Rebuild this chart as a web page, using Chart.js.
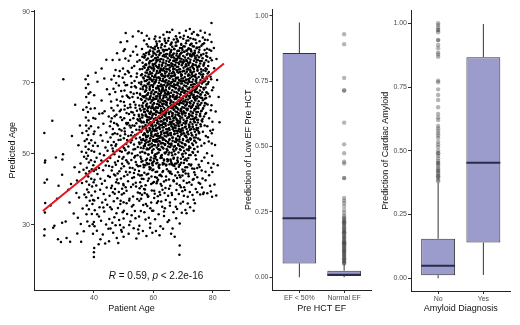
<!DOCTYPE html>
<html>
<head>
<meta charset="utf-8">
<script src="https://cdn.jsdelivr.net/npm/chart.js@4"></script>
<style>
  html, body { margin: 0; padding: 0; background: #fff; }
  body { width: 520px; height: 325px; position: relative; overflow: hidden; }
  canvas { position: absolute; top: 0; }
</style>
</head>
<body>
<canvas id="ageChart" width="233" height="325" style="left:0"></canvas>
<canvas id="efChart" width="142" height="325" style="left:233px"></canvas>
<canvas id="amyChart" width="145" height="325" style="left:375px"></canvas>
<script>
// ---- panel 1: patient age vs predicted age, pairs of [age, predicted] ----
const pairs23to37 = [
  23.3,27.0, 23.4,28.8, 23.5,33.5, 23.6,36.2, 23.4,41.9, 23.5,47.6, 23.6,48.1, 23.3,55.9, 24.2,42.8, 25.4,35.5,
  26.0,59.3, 26.3,29.2, 26.7,29.8, 27.2,49.0, 27.6,37.4, 27.9,26.0, 28.1,41.0, 28.9,25.2, 29.3,30.6, 29.3,44.1,
  29.6,49.9, 29.4,48.4, 29.7,71.0, 30.5,31.0, 30.8,26.3, 31.4,39.9, 31.8,36.3, 32.0,25.3, 32.3,41.5, 32.6,55.0,
  33.2,33.2, 33.5,46.2, 33.7,63.8, 34.1,39.0, 34.3,42.5, 34.4,27.6, 34.6,32.0, 34.8,52.4, 35.0,37.7, 35.1,44.9,
  35.3,58.0, 35.5,47.3, 35.6,30.3, 35.7,25.3, 35.9,50.6, 36.0,41.8, 36.1,55.9, 36.2,34.6, 36.4,62.4, 36.5,45.5,
  36.6,28.2, 36.7,49.2, 36.8,38.6, 36.9,53.6
];
const pairs37to40 = [
  37.2,71.0, 37.3,68.5, 37.4,66.0, 37.5,63.1, 37.3,60.2, 37.4,58.0, 37.5,56.4, 37.6,54.1, 37.2,52.0, 37.4,50.3,
  37.5,48.6, 37.6,46.1, 37.3,44.5, 37.5,42.2, 37.7,40.0, 37.4,37.8, 37.6,35.5, 37.5,33.0, 37.8,31.0, 38.0,72.0,
  38.1,69.6, 38.2,66.9, 38.3,64.4, 38.0,61.8, 38.2,59.4, 38.3,57.1, 38.1,55.3, 38.4,53.0, 38.2,51.3, 38.0,49.5,
  38.3,47.6, 38.5,45.1, 38.1,43.6, 38.4,41.3, 38.2,39.2, 38.6,36.8, 38.3,34.4, 38.5,29.7, 38.8,67.3, 38.9,62.7,
  39.0,57.8, 39.1,53.8, 39.2,50.9, 39.0,48.2, 39.3,45.7, 39.1,43.0, 39.4,40.8, 39.2,38.3, 39.5,35.9, 39.3,33.1,
  39.6,30.2, 39.7,27.5, 39.8,60.1, 39.9,55.6, 39.7,52.3, 39.8,46.8, 39.9,42.0, 39.7,37.0
];
const pairs40to45 = [
  40.0,21.0, 40.0,22.3, 40.1,23.5, 40.2,29.6, 40.0,30.8, 40.3,34.1, 40.1,36.9, 40.4,39.4, 40.2,42.7, 40.0,45.2,
  40.3,47.8, 40.1,50.6, 40.4,53.1, 40.2,56.3, 40.5,59.9, 40.3,62.8, 40.1,66.5, 40.6,72.8, 40.8,41.1, 40.9,48.9,
  41.0,28.4, 41.1,33.0, 41.2,44.3, 41.3,52.2, 41.4,37.6, 41.5,57.4, 41.6,24.6, 41.7,46.0, 41.8,61.3, 41.9,35.0,
  42.0,50.0, 42.1,39.9, 42.2,43.0, 42.3,55.2, 42.4,31.2, 42.5,48.1, 42.6,65.0, 42.7,41.6, 42.8,36.3, 42.9,53.7,
  43.0,27.3, 43.1,45.4, 43.2,58.5, 43.3,38.7, 43.4,49.6, 43.5,33.8, 43.6,62.0, 43.7,42.4, 43.8,24.8, 43.9,51.8,
  44.0,46.7, 44.1,30.1, 44.2,56.0, 44.3,40.5, 44.4,68.2, 44.5,35.7, 44.6,47.9, 44.7,53.4, 44.8,43.8, 44.9,28.9,
  45.0,60.5, 41.2,70.3, 42.6,74.0, 43.5,71.2, 44.2,76.5, 41.7,32.4, 42.2,26.0, 43.9,37.1, 44.6,50.9, 40.7,45.6,
  42.9,61.4, 43.2,34.9
];
const pairs45to50 = [
  45.1,25.4, 45.2,31.7, 45.3,38.2, 45.4,43.5, 45.5,48.8, 45.6,54.6, 45.7,59.1, 45.8,64.7, 45.9,70.9, 46.0,34.4,
  46.1,41.0, 46.2,46.3, 46.3,51.5, 46.4,57.0, 46.5,27.8, 46.6,62.2, 46.7,36.7, 46.8,44.2, 46.9,49.9, 47.0,55.8,
  47.1,40.1, 47.2,67.4, 47.3,29.9, 47.4,46.9, 47.5,52.7, 47.6,33.3, 47.7,58.4, 47.8,42.8, 47.9,37.5, 48.0,63.6,
  48.1,48.0, 48.2,24.9, 48.3,53.9, 48.4,39.3, 48.5,31.4, 48.6,45.1, 48.7,73.3, 48.8,50.8, 48.9,35.9, 49.0,60.3,
  49.1,43.1, 49.2,28.6, 49.3,56.6, 49.4,38.6, 49.5,47.2, 49.6,66.1, 49.7,33.6, 49.8,52.1, 49.9,41.5, 50.0,26.7,
  45.3,66.8, 45.8,40.4, 46.2,30.6, 46.7,53.3, 47.1,47.6, 47.6,61.0, 48.1,34.8, 48.6,56.9, 49.2,45.9, 49.7,71.4,
  45.5,35.0, 46.0,45.3, 46.5,50.7, 47.0,38.8, 47.5,42.0, 48.0,44.5, 48.5,49.2, 49.0,36.8, 49.5,40.2, 46.3,76.4,
  47.8,78.3, 49.0,81.4, 48.4,69.2, 47.3,73.6, 45.6,29.0, 46.9,32.2, 48.8,30.0, 49.4,28.1, 47.7,26.3, 46.4,39.2,
  47.2,43.9, 48.3,41.7, 49.6,48.6, 45.9,52.4, 48.9,55.1, 47.9,51.0, 46.8,58.7, 49.1,62.4, 45.1,46.6
];
const pairs50to55 = [
  50.0,29.3, 50.0,31.8, 50.1,34.0, 50.0,36.4, 50.1,38.9, 50.0,41.2, 50.2,43.7, 50.1,46.5, 50.0,49.1, 50.2,51.6,
  50.1,54.4, 50.3,57.2, 50.2,60.0, 50.4,63.5, 50.3,67.8, 50.5,72.4, 50.6,76.8, 50.7,84.0, 50.8,45.0, 50.9,52.8,
  51.0,39.6, 51.1,58.3, 51.2,33.1, 51.3,47.7, 51.4,62.9, 51.5,42.3, 51.6,55.0, 51.7,27.5, 51.8,50.4, 51.9,36.9,
  52.0,65.7, 52.1,44.8, 52.2,59.5, 52.3,31.0, 52.4,53.2, 52.5,40.7, 52.6,48.3, 52.7,69.9, 52.8,35.2, 52.9,56.1,
  53.0,46.0, 53.1,61.6, 53.2,38.0, 53.3,51.2, 53.4,29.1, 53.5,43.4, 53.6,74.7, 53.7,57.9, 53.8,33.9, 53.9,49.4,
  54.0,63.8, 54.1,41.9, 54.2,54.3, 54.3,26.2, 54.4,46.9, 54.5,67.1, 54.6,37.3, 54.7,59.7, 54.8,51.9, 54.9,44.2,
  55.0,84.5, 50.4,79.4, 51.2,81.7, 52.3,77.6, 53.1,83.0, 54.2,80.2, 50.5,55.5, 50.9,48.2, 51.3,44.1, 51.8,61.2,
  52.0,37.4, 52.4,57.4, 52.8,50.1, 53.2,41.4, 53.5,64.6, 53.9,55.3, 54.1,47.7, 54.4,71.6, 54.8,39.1, 50.7,40.6,
  51.1,66.4, 51.6,52.1, 52.1,46.1, 52.6,61.8, 52.9,43.2, 53.4,54.9, 53.8,45.5, 54.3,58.6, 54.7,49.6, 50.2,70.1,
  51.4,73.3, 52.5,71.8, 53.7,70.5, 54.6,75.9, 51.0,36.1, 51.9,30.0, 52.7,32.7, 53.3,35.6, 54.0,31.9, 54.9,28.7,
  51.5,58.7, 52.2,63.9, 53.0,58.0, 53.6,60.9, 54.5,62.1, 50.6,51.0, 51.7,47.3, 52.8,53.8, 53.9,51.4, 54.6,55.6,
  50.3,62.5, 51.2,69.4, 52.4,67.3, 53.4,66.9, 54.2,68.7
];
const pairs55to60 = [
  55.1,27.6, 55.2,32.4, 55.3,36.8, 55.4,40.3, 55.5,43.9, 55.6,46.6, 55.7,49.2, 55.8,51.7, 55.9,54.0, 56.0,56.5,
  56.1,58.8, 56.2,61.1, 56.3,63.6, 56.4,66.2, 56.5,68.9, 56.6,71.5, 56.7,74.6, 56.8,78.0, 56.9,81.9, 55.2,45.2,
  55.4,52.8, 55.6,59.9, 55.8,65.4, 56.0,70.2, 56.2,38.5, 56.4,48.0, 56.6,55.3, 56.8,62.5, 57.0,44.7, 57.1,50.3,
  57.2,57.6, 57.3,64.9, 57.4,41.2, 57.5,67.8, 57.6,53.2, 57.7,60.6, 57.8,47.4, 57.9,72.8, 58.0,35.3, 58.1,56.1,
  58.2,62.0, 58.3,49.8, 58.4,69.6, 58.5,43.1, 58.6,75.4, 58.7,58.4, 58.8,52.6, 58.9,65.5, 59.0,30.4, 59.1,46.0,
  59.2,61.7, 59.3,55.1, 59.4,70.8, 59.5,39.7, 59.6,50.9, 59.7,63.4, 59.8,57.2, 59.9,78.8, 55.3,56.8, 55.5,62.7,
  55.7,68.3, 55.9,72.1, 56.1,44.0, 56.3,50.6, 56.5,53.9, 56.7,59.0, 56.9,65.9, 57.1,39.0, 57.3,46.8, 57.5,55.0,
  57.7,63.3, 57.9,51.5, 58.1,66.6, 58.3,44.4, 58.5,59.6, 58.7,71.0, 58.9,48.3, 59.1,54.4, 59.3,67.0, 59.5,60.2,
  59.7,45.4, 59.9,53.7, 55.4,76.3, 55.8,33.9, 56.2,79.5, 56.6,35.6, 57.0,77.2, 57.4,31.5, 57.8,80.8, 58.2,37.9,
  58.6,82.4, 59.0,34.7, 59.4,76.1, 59.8,41.8, 55.6,42.0, 56.0,47.8, 56.4,57.7, 56.8,52.2, 57.2,61.8, 57.6,69.1,
  58.0,54.8, 58.4,63.1, 58.8,56.6, 59.2,49.0, 59.6,65.1, 55.1,61.0, 55.5,66.9, 55.9,48.6, 56.3,73.9, 56.7,42.9,
  57.1,70.5, 57.5,48.2, 57.9,58.9, 58.3,74.2, 58.7,46.3, 59.1,72.5, 59.5,56.3, 59.9,62.9, 55.2,70.0, 55.6,50.4,
  56.0,40.9, 56.4,60.8, 56.8,46.2, 57.2,53.7, 57.6,57.1, 58.0,60.4, 58.4,51.3, 58.8,68.0, 59.2,58.0, 59.6,47.3,
  59.9,69.3, 55.3,29.8, 56.5,28.3, 57.7,26.9, 58.9,29.2, 59.7,27.8, 57.0,33.6, 58.5,32.0, 55.9,37.4, 57.9,38.6,
  59.3,36.3, 56.9,40.1, 58.2,42.4, 59.4,43.6, 55.8,59.2, 56.6,64.3, 57.4,66.3, 58.1,71.7, 58.9,61.2, 59.6,74.0,
  55.5,73.8, 56.3,77.3, 57.3,75.0, 58.4,78.6, 59.2,80.0, 56.1,84.0, 57.8,83.2
];
const pairs60to65 = [
  60.0,45.6, 60.1,52.4, 60.2,58.9, 60.3,64.2, 60.4,69.9, 60.5,75.3, 60.6,80.1, 60.7,48.7, 60.8,55.5, 60.9,61.8,
  61.0,67.4, 61.1,72.7, 61.2,43.3, 61.3,50.1, 61.4,57.3, 61.5,63.0, 61.6,68.6, 61.7,74.1, 61.8,78.9, 61.9,46.8,
  62.0,53.6, 62.1,60.0, 62.2,65.6, 62.3,71.2, 62.4,76.6, 62.5,41.5, 62.6,49.4, 62.7,56.2, 62.8,62.4, 62.9,67.9,
  63.0,73.5, 63.1,44.9, 63.2,51.7, 63.3,58.5, 63.4,64.8, 63.5,70.4, 63.6,77.9, 63.7,47.2, 63.8,54.0, 63.9,60.7,
  64.0,66.5, 64.1,72.0, 64.2,81.2, 64.3,42.6, 64.4,50.5, 64.5,57.0, 64.6,63.7, 64.7,69.3, 64.8,75.0, 64.9,53.1,
  60.2,42.1, 60.4,49.5, 60.6,56.7, 60.8,62.9, 61.0,70.8, 61.2,76.2, 61.4,47.5, 61.6,54.3, 61.8,60.4, 62.0,66.8,
  62.2,73.4, 62.4,44.1, 62.6,52.9, 62.8,59.2, 63.0,64.0, 63.2,69.2, 63.4,75.7, 63.6,48.4, 63.8,55.9, 64.0,62.3,
  64.2,68.1, 64.4,73.9, 64.6,45.7, 64.8,51.0, 60.1,65.3, 60.3,71.6, 60.5,38.8, 60.7,59.6, 60.9,66.1, 61.1,41.7,
  61.3,53.4, 61.5,59.1, 61.7,65.0, 61.9,71.5, 62.1,39.3, 62.3,55.0, 62.5,61.5, 62.7,69.0, 62.9,74.8, 63.1,39.9,
  63.3,53.0, 63.5,61.1, 63.7,67.7, 63.9,73.2, 64.1,40.4, 64.3,56.0, 64.5,60.2, 64.7,66.7, 64.9,71.8, 60.0,34.0,
  60.6,31.6, 61.2,36.2, 61.8,33.0, 62.4,29.6, 63.0,35.1, 63.6,32.5, 64.2,37.0, 64.8,30.8, 60.3,37.6, 61.5,38.1,
  62.7,36.6, 63.9,34.7, 60.9,28.3, 62.1,27.1, 63.3,28.9, 60.4,78.3, 61.0,81.6, 61.6,79.8, 62.2,82.7, 62.8,80.6,
  63.4,83.5, 64.0,79.2, 64.6,84.3, 60.7,83.0, 62.5,78.4, 63.9,81.8, 60.2,47.9, 60.5,53.8, 60.8,58.0, 61.1,62.1,
  61.4,66.3, 61.7,51.3, 62.0,57.7, 62.3,63.4, 62.6,67.1, 62.9,54.6, 63.2,61.9, 63.5,66.0, 63.8,50.3, 64.1,58.6,
  64.4,64.5, 64.7,55.8, 60.1,74.4, 60.9,77.0, 61.7,76.5, 62.6,74.0, 63.4,71.9, 64.3,77.4, 60.6,43.5, 61.3,45.0,
  62.0,46.0, 62.8,43.7, 63.6,42.2, 64.4,46.9, 60.3,61.3, 61.1,55.1, 61.9,68.2, 62.7,72.3, 63.5,57.5, 64.3,61.7,
  60.8,49.2, 61.6,42.7, 62.4,58.1, 63.2,47.0, 64.0,52.6, 64.8,65.2, 61.0,60.1, 62.1,51.2, 63.1,68.4, 64.1,70.6,
  60.7,70.3, 61.9,63.9, 62.9,48.9, 63.8,59.7
];
const pairs65to70 = [
  65.0,48.3, 65.1,55.2, 65.2,61.6, 65.3,67.0, 65.4,72.6, 65.5,78.1, 65.6,44.6, 65.7,51.9, 65.8,58.3, 65.9,64.6,
  66.0,70.1, 66.1,75.5, 66.2,81.3, 66.3,47.1, 66.4,54.5, 66.5,60.9, 66.6,66.4, 66.7,72.0, 66.8,77.2, 66.9,42.3,
  67.0,50.7, 67.1,57.4, 67.2,63.6, 67.3,69.4, 67.4,74.9, 67.5,80.4, 67.6,45.8, 67.7,53.3, 67.8,59.8, 67.9,65.8,
  68.0,71.3, 68.1,76.8, 68.2,48.9, 68.3,56.4, 68.4,62.5, 68.5,68.2, 68.6,73.7, 68.7,79.0, 68.8,44.0, 68.9,52.2,
  69.0,58.8, 69.1,64.9, 69.2,70.6, 69.3,76.0, 69.4,47.5, 69.5,55.6, 69.6,61.4, 69.7,67.5, 69.8,73.2, 69.9,50.0,
  65.2,45.1, 65.4,52.8, 65.6,58.9, 65.8,65.1, 66.0,71.9, 66.2,77.7, 66.4,49.6, 66.6,56.9, 66.8,63.2, 67.0,68.8,
  67.2,73.9, 67.4,43.9, 67.6,51.2, 67.8,58.0, 68.0,64.2, 68.2,70.0, 68.4,75.6, 68.6,46.4, 68.8,54.1, 69.0,60.5,
  69.2,66.6, 69.4,72.4, 69.6,78.5, 69.8,53.0, 65.1,63.1, 65.3,69.6, 65.5,75.0, 65.7,41.0, 65.9,48.0, 66.1,57.8,
  66.3,62.8, 66.5,69.0, 66.7,74.5, 66.9,52.0, 67.1,60.2, 67.3,65.4, 67.5,71.1, 67.7,76.3, 67.9,41.6, 68.1,53.8,
  68.3,61.0, 68.5,65.0, 68.7,70.8, 68.9,76.9, 69.1,43.4, 69.3,56.7, 69.5,62.7, 69.7,69.8, 69.9,75.4, 65.0,38.2,
  65.6,35.4, 66.2,39.0, 66.8,33.6, 67.4,37.2, 68.0,34.5, 68.6,38.7, 69.2,36.0, 69.8,39.5, 65.3,31.3, 66.5,29.0,
  67.7,31.9, 68.9,30.4, 68.9,24.2, 68.8,21.6, 67.2,26.7, 66.0,27.5, 65.2,82.6, 65.8,80.7, 66.4,84.9, 67.0,79.6,
  67.6,83.1, 68.2,81.9, 68.8,84.0, 69.4,80.9, 65.5,84.2, 67.9,82.4, 69.1,82.8, 65.1,57.0, 65.4,60.3, 65.7,66.2,
  66.0,52.7, 66.3,59.0, 66.6,63.8, 66.9,70.4, 67.2,55.7, 67.5,61.9, 67.8,67.3, 68.1,73.0, 68.4,58.6, 68.7,64.0,
  69.0,68.4, 69.3,62.0, 69.6,58.1, 65.2,73.8, 66.1,79.2, 67.0,76.1, 67.9,78.2, 68.8,77.5, 69.7,79.8, 65.3,42.8,
  66.2,44.3, 67.1,46.6, 68.0,43.2, 68.9,41.2, 69.8,45.6, 65.6,55.7, 66.5,61.4, 67.4,66.0, 68.3,59.3, 69.2,51.1,
  65.9,69.9, 66.8,48.6, 67.7,63.0, 68.6,57.0, 69.5,71.2, 65.0,66.8, 66.0,63.5, 67.0,72.8, 68.0,69.5, 69.0,56.2,
  65.4,50.4, 66.9,58.4, 68.3,47.7, 69.6,64.3
];
const pairs70to75 = [
  70.0,49.2, 70.1,55.8, 70.2,62.0, 70.3,67.8, 70.4,73.3, 70.5,78.7, 70.6,45.3, 70.7,52.6, 70.8,59.1, 70.9,65.2,
  71.0,70.9, 71.1,76.4, 71.2,81.8, 71.3,48.1, 71.4,56.0, 71.5,62.4, 71.6,68.3, 71.7,74.0, 71.8,79.4, 71.9,43.7,
  72.0,51.5, 72.1,58.2, 72.2,64.5, 72.3,70.2, 72.4,75.8, 72.5,82.5, 72.6,46.7, 72.7,54.2, 72.8,60.8, 72.9,66.9,
  73.0,72.5, 73.1,77.9, 73.2,50.5, 73.3,57.6, 73.4,63.8, 73.5,69.6, 73.6,75.1, 73.7,80.2, 73.8,44.8, 73.9,53.7,
  74.0,60.1, 74.1,66.0, 74.2,71.6, 74.3,77.1, 74.4,48.5, 74.5,56.8, 74.6,63.0, 74.7,68.9, 74.8,74.4, 74.9,52.0,
  70.2,42.4, 70.4,50.8, 70.6,57.5, 70.8,63.6, 71.0,69.0, 71.2,74.7, 71.4,46.2, 71.6,53.9, 71.8,60.3, 72.0,66.2,
  72.2,72.1, 72.4,78.0, 72.6,49.7, 72.8,57.0, 73.0,63.2, 73.2,68.7, 73.4,74.2, 73.6,42.9, 73.8,51.4, 74.0,58.9,
  74.2,65.0, 74.4,70.7, 74.6,76.5, 74.8,46.0, 70.1,64.8, 70.3,70.5, 70.5,76.0, 70.7,39.8, 70.9,48.6, 71.1,58.7,
  71.3,64.0, 71.5,70.0, 71.7,75.6, 71.9,51.0, 72.1,61.0, 72.3,67.2, 72.5,73.0, 72.7,79.1, 72.9,41.3, 73.1,55.2,
  73.3,61.6, 73.5,66.4, 73.7,71.9, 73.9,77.6, 74.1,44.1, 74.3,54.6, 74.5,61.8, 74.7,67.4, 74.9,73.6, 70.0,36.5,
  70.8,34.2, 71.6,37.9, 72.4,35.0, 73.2,38.4, 74.0,36.1, 74.8,39.2, 71.2,33.3, 73.6,34.0, 70.4,40.6, 70.3,83.2,
  71.0,84.6, 71.7,82.9, 72.3,85.1, 73.0,83.8, 73.6,84.3, 74.2,82.1, 74.8,83.5, 72.9,81.0, 70.6,61.4, 71.0,55.1,
  71.4,66.6, 71.8,71.0, 72.2,57.7, 72.6,63.3, 73.0,67.7, 73.4,59.8, 73.8,65.6, 74.2,62.6, 74.6,70.0, 70.2,80.3,
  71.3,79.0, 72.4,80.6, 73.5,78.3, 74.6,79.7, 70.9,44.5, 72.0,47.1, 73.1,45.9, 74.2,49.6, 70.5,67.1, 71.9,73.7,
  73.3,72.0, 74.7,59.6, 71.1,62.7, 72.8,69.4, 74.0,67.9
];
const pairs75to83 = [
  75.0,50.6, 75.1,57.3, 75.2,63.5, 75.3,69.2, 75.4,74.8, 75.5,80.0, 75.6,46.3, 75.7,54.0, 75.8,60.6, 75.9,66.6,
  76.0,72.3, 76.1,77.7, 76.2,52.3, 76.3,59.4, 76.4,65.7, 76.5,71.4, 76.6,43.1, 76.7,56.2, 76.8,62.9, 76.9,68.5,
  77.0,75.2, 77.1,81.1, 77.2,49.0, 77.3,58.0, 77.4,64.3, 77.5,70.5, 77.6,45.0, 77.7,55.0, 77.8,61.5, 77.9,67.3,
  78.0,73.8, 78.1,50.2, 78.2,57.8, 78.3,63.9, 78.4,69.7, 78.5,47.4, 78.6,75.9, 78.7,53.5, 78.8,60.0, 78.9,79.3,
  79.0,66.1, 79.1,41.0, 79.2,56.5, 79.3,71.7, 79.4,62.3, 79.5,46.1, 79.6,81.5, 79.7,52.9, 79.8,67.9, 79.9,59.0,
  75.3,41.9, 75.8,38.6, 76.4,40.5, 77.0,39.1, 77.6,42.6, 78.2,38.9, 78.8,44.0, 79.4,39.4, 75.1,83.4, 75.9,84.6,
  76.7,82.7, 77.4,84.1, 78.3,82.0, 79.0,83.6, 79.6,86.8, 78.7,73.0, 79.2,77.0, 79.7,76.3, 79.5,71.0, 79.6,63.7,
  79.7,55.8, 79.8,49.5, 79.9,44.9, 79.8,37.9, 79.5,79.0, 75.5,66.0, 76.1,62.0, 76.7,70.2, 77.3,65.5, 77.9,78.4,
  78.5,66.9, 75.7,76.1, 76.9,73.5, 78.1,71.2, 75.4,56.1, 76.3,48.0, 77.2,53.0, 78.4,54.7, 80.1,56.8, 80.2,68.7,
  80.3,47.2, 80.5,74.1, 80.8,52.5, 81.0,61.9, 81.2,38.3, 81.5,70.8, 81.7,46.8, 82.0,66.0, 82.3,58.9, 80.4,79.8,
  81.3,76.7, 80.6,41.4
];
// fringe of the cloud: middle ages, upper band, and the lower shoulder below the core
const pairsFringe = [
  45.4,57.8, 45.9,62.9, 46.3,55.5, 46.6,68.3, 47.0,60.6, 47.3,52.2, 47.7,65.2, 48.1,58.0, 48.4,71.8, 48.7,62.0,
  49.0,54.0, 49.2,67.7, 49.5,59.5, 49.8,74.0, 50.1,64.6, 50.4,56.3, 50.7,69.3, 51.0,61.5, 51.2,53.9, 51.5,66.0,
  51.8,72.9, 52.0,58.0, 52.3,63.1, 52.5,55.2, 52.8,74.2, 53.0,66.0, 53.3,60.0, 53.5,52.6, 53.8,69.0, 54.0,63.0,
  54.3,56.8, 54.5,72.6, 54.8,65.8, 55.0,59.4, 55.2,53.2, 54.6,77.9, 53.2,78.7, 51.7,76.2, 50.0,78.9, 48.6,76.5,
  46.8,72.0, 47.9,55.6, 49.4,50.6, 51.4,50.1, 53.6,49.0, 52.6,68.8, 50.9,58.7, 49.0,64.8, 47.5,69.9, 46.0,60.0,
  53.5,44.6, 54.2,40.8, 54.9,46.5, 55.5,38.9, 56.1,43.0, 56.7,46.9, 57.2,40.0, 57.8,44.2, 58.3,38.1, 58.8,45.7,
  59.3,41.5, 59.8,47.6, 60.3,39.6, 60.8,44.9, 61.3,42.2, 61.8,46.3, 62.3,38.5, 62.8,41.0, 63.3,45.2, 63.8,39.0,
  64.3,43.6, 64.8,47.9, 65.3,40.2, 65.8,45.0, 66.3,38.4, 66.8,42.6, 67.3,47.2, 67.8,39.8, 68.3,44.8, 68.8,46.9,
  69.3,40.6, 69.8,43.9, 70.3,38.2, 70.8,46.2, 71.3,41.8, 71.8,44.4, 72.3,39.3, 72.8,47.0, 73.3,42.7, 73.8,45.8,
  74.3,40.1, 74.8,43.4, 75.3,46.9, 75.8,41.6, 76.3,45.3, 76.8,38.7, 57.5,35.9, 59.6,34.0, 61.6,36.7, 63.6,33.8,
  65.6,36.3, 67.6,35.1, 69.6,33.4, 71.6,36.0, 73.6,37.1, 62.1,44.0, 66.1,47.5, 70.1,45.0, 72.1,42.0, 58.1,47.1
];
// dense core of the cloud (ages 55-79, predicted 47-82)
const pairsCore = [
  60.4,82.3, 62.1,81.7, 63.8,82.4, 65.0,81.8, 66.9,82.2, 68.3,81.6, 70.1,82.4, 71.8,81.9, 73.5,82.3, 75.6,81.7, 77.4,82.1,
  58.3,80.2, 59.9,79.7, 61.2,80.4, 62.6,79.9, 63.9,80.3, 65.3,79.6, 66.4,80.1, 67.8,80.4, 69.0,79.8, 70.6,80.2, 71.9,79.7,
  73.3,80.3, 74.7,79.9, 76.2,80.4, 78.1,79.6,
  57.6,78.4, 58.9,78.9, 60.1,78.2, 61.4,78.7, 62.3,78.3, 63.5,78.8, 64.6,78.1, 65.8,78.6, 66.9,78.2, 68.1,78.9, 69.3,78.3,
  70.4,78.7, 71.6,78.2, 72.8,78.8, 74.0,78.4, 75.3,78.6, 76.9,78.1,
  56.9,77.1, 58.2,76.8, 59.4,77.3, 60.6,76.9, 61.5,77.2, 62.7,76.7, 63.8,77.4, 64.9,76.9, 66.1,77.2, 67.2,76.8, 68.4,77.3,
  69.5,76.7, 70.7,77.1, 71.8,76.9, 72.9,77.4, 74.1,76.8, 75.4,77.2, 76.6,76.9, 78.2,77.3,
  56.4,75.6, 57.5,75.2, 58.7,75.8, 59.8,75.3, 60.9,75.7, 62.0,75.1, 63.1,75.6, 64.2,75.4, 65.3,75.9, 66.5,75.2, 67.6,75.7,
  68.7,75.3, 69.9,75.8, 71.0,75.2, 72.2,75.6, 73.3,75.3, 74.5,75.8, 75.8,75.4, 77.2,75.6,
  57.1,74.2, 58.3,73.8, 59.2,74.3, 60.3,73.9, 61.3,74.4, 62.5,73.7, 63.5,74.1, 64.6,73.8, 65.6,74.3, 66.7,73.9, 67.9,74.4,
  69.0,73.8, 70.2,74.2, 71.3,73.7, 72.5,74.3, 73.7,73.9, 74.9,74.2, 76.1,73.8, 77.6,74.1,
  56.2,72.4, 57.4,72.9, 58.5,72.3, 59.6,72.7, 60.7,72.2, 61.8,72.8, 62.9,72.4, 64.0,72.6, 65.1,72.1, 66.2,72.7, 67.3,72.3,
  68.5,72.8, 69.6,72.2, 70.8,72.6, 71.9,72.4, 73.1,72.9, 74.3,72.3, 75.5,72.7, 76.8,72.4, 78.3,72.6,
  56.8,71.2, 57.9,70.8, 59.0,71.3, 60.1,70.9, 61.1,71.4, 62.2,70.7, 63.3,71.1, 64.4,70.8, 65.5,71.3, 66.6,70.9, 67.7,71.4,
  68.8,70.7, 70.0,71.2, 71.1,70.8, 72.3,71.3, 73.4,70.9, 74.6,71.2, 75.9,70.8, 77.3,71.1,
  55.9,69.6, 57.0,69.2, 58.1,69.7, 59.3,69.3, 60.4,69.8, 61.5,69.1, 62.6,69.5, 63.7,69.4, 64.8,69.9, 65.9,69.2, 67.0,69.6,
  68.2,69.3, 69.3,69.8, 70.4,69.2, 71.6,69.7, 72.7,69.4, 73.9,69.6, 75.1,69.3, 76.4,69.8, 77.9,69.5,
  56.5,68.2, 57.6,67.8, 58.8,68.3, 59.9,67.9, 61.0,68.4, 62.1,67.7, 63.2,68.1, 64.3,67.8, 65.4,68.3, 66.4,67.9, 67.5,68.4,
  68.6,67.8, 69.8,68.2, 70.9,67.7, 72.0,68.3, 73.2,67.9, 74.4,68.2, 75.7,67.8, 77.0,68.1,
  55.6,66.6, 56.8,66.2, 57.9,66.7, 59.1,66.3, 60.2,66.8, 61.3,66.1, 62.4,66.5, 63.5,66.4, 64.6,66.9, 65.7,66.2, 66.8,66.6,
  67.9,66.3, 69.1,66.8, 70.2,66.2, 71.3,66.7, 72.5,66.4, 73.6,66.6, 74.8,66.3, 76.0,66.8, 77.5,66.5,
  56.1,65.2, 57.2,64.8, 58.4,65.3, 59.5,64.9, 60.6,65.4, 61.7,64.7, 62.8,65.1, 63.9,64.8, 65.0,65.3, 66.1,64.9, 67.2,65.4,
  68.3,64.8, 69.4,65.2, 70.6,64.7, 71.7,65.3, 72.9,64.9, 74.1,65.2, 75.3,64.8, 76.7,65.1,
  55.3,63.6, 56.4,63.2, 57.6,63.7, 58.7,63.3, 59.8,63.8, 60.9,63.1, 62.0,63.5, 63.1,63.4, 64.2,63.9, 65.3,63.2, 66.4,63.6,
  67.6,63.3, 68.7,63.8, 69.8,63.2, 71.0,63.7, 72.1,63.4, 73.3,63.6, 74.5,63.3, 75.8,63.8, 77.2,63.5,
  55.8,62.2, 56.9,61.8, 58.0,62.3, 59.2,61.9, 60.3,62.4, 61.4,61.7, 62.5,62.1, 63.6,61.8, 64.7,62.3, 65.8,61.9, 66.9,62.4,
  68.0,61.8, 69.2,62.2, 70.3,61.7, 71.4,62.3, 72.6,61.9, 73.8,62.2, 75.0,61.8, 76.3,62.1,
  55.2,60.6, 56.3,60.2, 57.4,60.7, 58.6,60.3, 59.7,60.8, 60.8,60.1, 61.9,60.5, 63.0,60.4, 64.1,60.9, 65.2,60.2, 66.3,60.6,
  67.4,60.3, 68.6,60.8, 69.7,60.2, 70.8,60.7, 72.0,60.4, 73.2,60.6, 74.4,60.3, 75.7,60.8, 77.1,60.5,
  55.7,59.2, 56.8,58.8, 57.9,59.3, 59.0,58.9, 60.2,59.4, 61.3,58.7, 62.4,59.1, 63.5,58.8, 64.6,59.3, 65.7,58.9, 66.8,59.4,
  67.9,58.8, 69.0,59.2, 70.2,58.7, 71.3,59.3, 72.5,58.9, 73.7,59.2, 75.0,58.8, 76.5,59.1,
  55.4,57.6, 56.5,57.2, 57.6,57.7, 58.7,57.3, 59.8,57.8, 60.9,57.1, 62.0,57.5, 63.1,57.4, 64.2,57.9, 65.3,57.2, 66.4,57.6,
  67.5,57.3, 68.6,57.8, 69.8,57.2, 70.9,57.7, 72.1,57.4, 73.3,57.6, 74.6,57.3, 76.0,57.8,
  55.9,56.2, 57.0,55.8, 58.1,56.3, 59.3,55.9, 60.4,56.4, 61.5,55.7, 62.6,56.1, 63.7,55.8, 64.8,56.3, 65.9,55.9, 67.0,56.4,
  68.1,55.8, 69.3,56.2, 70.4,55.7, 71.6,56.3, 72.8,55.9, 74.0,56.2, 75.4,55.8,
  55.5,54.6, 56.6,54.2, 57.7,54.7, 58.9,54.3, 60.0,54.8, 61.1,54.1, 62.2,54.5, 63.3,54.4, 64.4,54.9, 65.5,54.2, 66.6,54.6,
  67.7,54.3, 68.9,54.8, 70.0,54.2, 71.2,54.7, 72.4,54.4, 73.7,54.6, 75.1,54.3,
  56.0,53.2, 57.2,52.8, 58.3,53.3, 59.5,52.9, 60.6,53.4, 61.7,52.7, 62.8,53.1, 63.9,52.8, 65.0,53.3, 66.1,52.9, 67.2,53.4,
  68.4,52.8, 69.5,53.2, 70.7,52.7, 71.9,53.3, 73.1,52.9, 74.4,53.2,
  56.7,51.6, 57.8,51.2, 58.9,51.7, 60.1,51.3, 61.2,51.8, 62.3,51.1, 63.4,51.5, 64.5,51.4, 65.6,51.9, 66.7,51.2, 67.8,51.6,
  69.0,51.3, 70.1,51.8, 71.3,51.2, 72.5,51.7, 73.8,51.4,
  57.3,50.2, 58.4,49.8, 59.6,50.3, 60.7,49.9, 61.8,50.4, 62.9,49.7, 64.0,50.1, 65.1,49.8, 66.2,50.3, 67.4,49.9, 68.5,50.4,
  69.7,49.8, 70.9,50.2, 72.1,49.7, 73.4,50.3,
  57.9,48.6, 59.1,48.2, 60.2,48.7, 61.3,48.3, 62.4,48.8, 63.6,48.1, 64.7,48.5, 65.8,48.4, 66.9,48.9, 68.1,48.2, 69.3,48.6,
  70.5,48.3, 71.8,48.8,
  58.6,47.2, 59.8,46.8, 61.0,47.3, 62.1,46.9, 63.2,47.4, 64.3,46.7, 65.5,47.1, 66.6,46.8, 67.8,47.3, 69.0,46.9, 70.3,47.4
];
// densest part of the core (ages 57-79, predicted 52-81)
const pairsCore2 = [
  61.2,81.0, 62.9,80.8, 64.4,81.2, 66.0,80.9, 67.6,81.3, 69.4,80.7, 71.0,81.1, 72.7,80.9, 74.5,81.2, 76.6,80.8,
  58.9,79.1, 60.5,79.4, 61.9,79.0, 63.2,79.3, 64.6,79.2, 65.9,78.9, 67.1,79.4, 68.4,79.0, 69.8,79.3, 71.2,79.1,
  72.6,79.4, 74.0,79.0, 75.5,79.3, 77.3,79.2,
  57.3,77.7, 58.6,78.0, 59.8,77.6, 61.0,77.9, 62.0,77.8, 63.2,77.5, 64.3,78.0, 65.5,77.6, 66.6,77.9, 67.8,77.7,
  69.0,78.0, 70.1,77.5, 71.3,77.9, 72.4,77.6, 73.6,78.0, 74.8,77.7, 76.1,77.9, 77.8,77.6,
  57.7,76.5, 58.9,76.1, 60.0,76.4, 61.1,76.3, 62.2,76.0, 63.4,76.5, 64.4,76.1, 65.6,76.4, 66.7,76.2,
  67.9,76.5, 69.0,76.0, 70.2,76.4, 71.3,76.1, 72.5,76.5, 73.7,76.2, 75.0,76.4, 76.3,76.1, 77.8,76.3,
  57.6,75.0, 58.7,74.6, 59.9,74.9, 60.9,74.8, 61.9,74.5, 63.0,75.0, 64.1,74.6, 65.1,74.9, 66.2,74.7,
  67.3,75.0, 68.4,74.5, 69.6,74.9, 70.8,74.6, 71.9,75.0, 73.1,74.7, 74.3,74.9, 75.5,74.6, 76.9,74.8, 78.5,74.7,
  57.9,73.5, 58.9,73.1, 60.1,73.4, 61.2,73.3, 62.3,73.0, 63.4,73.5, 64.5,73.1, 65.6,73.4, 66.7,73.2,
  67.9,73.5, 69.0,73.0, 70.2,73.4, 71.3,73.1, 72.5,73.5, 73.7,73.2, 74.9,73.4, 76.2,73.1, 77.6,73.3,
  57.3,72.0, 58.5,71.6, 59.6,71.9, 60.6,71.8, 61.7,71.5, 62.8,72.0, 63.9,71.6, 65.0,71.9, 66.1,71.7,
  67.2,72.0, 68.3,71.5, 69.4,71.9, 70.6,71.6, 71.7,72.0, 72.9,71.7, 74.0,71.9, 75.3,71.6, 76.6,71.8, 78.0,71.7,
  57.5,70.5, 58.6,70.1, 59.7,70.4, 60.8,70.3, 61.9,70.0, 63.0,70.5, 64.1,70.1, 65.2,70.4, 66.3,70.2,
  67.4,70.5, 68.5,70.0, 69.7,70.4, 70.8,70.1, 72.0,70.5, 73.1,70.2, 74.3,70.4, 75.6,70.1, 77.0,70.3, 78.6,70.2,
  57.7,68.6, 58.8,68.9, 59.9,68.8, 61.0,68.5, 62.1,69.0, 63.2,68.6, 64.3,68.9, 65.4,68.7,
  66.5,69.0, 67.6,68.5, 68.8,68.9, 69.9,68.6, 71.1,69.0, 72.2,68.7, 73.4,68.9, 74.7,68.6, 76.0,68.8, 77.6,68.7,
  57.2,67.5, 58.3,67.1, 59.4,67.4, 60.6,67.3, 61.7,67.0, 62.8,67.5, 63.9,67.1, 65.0,67.4, 66.0,67.2,
  67.1,67.5, 68.2,67.0, 69.4,67.4, 70.5,67.1, 71.6,67.5, 72.8,67.2, 74.0,67.4, 75.2,67.1, 76.5,67.3, 78.0,67.2,
  57.7,65.6, 58.9,65.9, 60.0,65.8, 61.1,65.5, 62.2,66.0, 63.3,65.6, 64.4,65.9, 65.5,65.7,
  66.6,66.0, 67.7,65.5, 68.8,65.9, 70.0,65.6, 71.1,66.0, 72.3,65.7, 73.5,65.9, 74.7,65.6, 76.1,65.8, 77.8,65.7,
  57.9,64.1, 59.1,64.4, 60.2,64.3, 61.3,64.0, 62.4,64.5, 63.5,64.1, 64.6,64.4, 65.7,64.2,
  66.8,64.5, 67.9,64.0, 69.0,64.4, 70.2,64.1, 71.3,64.5, 72.5,64.2, 73.7,64.4, 74.9,64.1, 76.2,64.3, 77.7,64.2,
  57.1,62.6, 58.2,62.9, 59.3,62.8, 60.4,62.5, 61.5,63.0, 62.6,62.6, 63.7,62.9, 64.8,62.7,
  65.9,63.0, 67.0,62.5, 68.1,62.9, 69.3,62.6, 70.4,63.0, 71.6,62.7, 72.7,62.9, 73.9,62.6, 75.2,62.8, 76.7,62.7,
  57.5,61.1, 58.7,61.4, 59.8,61.3, 60.9,61.0, 62.0,61.5, 63.1,61.1, 64.2,61.4, 65.3,61.2,
  66.4,61.5, 67.5,61.0, 68.6,61.4, 69.8,61.1, 70.9,61.5, 72.1,61.2, 73.3,61.4, 74.5,61.1, 75.8,61.3, 77.5,61.2,
  58.0,59.6, 59.1,59.9, 60.2,59.8, 61.3,59.5, 62.4,60.0, 63.5,59.6, 64.6,59.9, 65.7,59.7,
  66.8,60.0, 67.9,59.5, 69.1,59.9, 70.2,59.6, 71.4,60.0, 72.6,59.7, 73.8,59.9, 75.1,59.6, 76.6,59.8,
  57.4,58.1, 58.5,58.4, 59.6,58.3, 60.7,58.0, 61.8,58.5, 62.9,58.1, 64.0,58.4, 65.1,58.2,
  66.2,58.5, 67.3,58.0, 68.5,58.4, 69.6,58.1, 70.8,58.5, 72.0,58.2, 73.2,58.4, 74.5,58.1, 75.9,58.3,
  57.8,56.6, 58.9,56.9, 60.0,56.8, 61.1,56.5, 62.2,57.0, 63.3,56.6, 64.4,56.9, 65.5,56.7,
  66.6,57.0, 67.7,56.5, 68.9,56.9, 70.0,56.6, 71.2,57.0, 72.4,56.7, 73.7,56.9, 75.0,56.6,
  57.2,55.5, 58.3,55.1, 59.4,55.4, 60.5,55.3, 61.6,55.0, 62.7,55.5, 63.8,55.1, 64.9,55.4, 66.0,55.2,
  67.1,55.5, 68.3,55.0, 69.4,55.4, 70.6,55.1, 71.8,55.5, 73.0,55.2, 74.4,55.4,
  57.7,54.0, 58.8,53.6, 59.9,53.9, 61.0,53.8, 62.1,53.5, 63.2,54.0, 64.3,53.6, 65.4,53.9, 66.5,53.7,
  67.7,54.0, 68.8,53.5, 70.0,53.9, 71.2,53.6, 72.5,54.0, 73.8,53.7,
  57.2,52.2, 58.4,52.5, 59.5,52.1, 60.6,52.4, 61.7,52.3, 62.8,52.0, 63.9,52.5, 65.0,52.1, 66.1,52.4, 67.3,52.2,
  68.4,52.5, 69.6,52.0, 70.8,52.4, 72.1,52.1, 73.4,52.5
];
const fitAge = [22.8, 83.8];
const fitPred = [33.9, 75.4];
const ageTicks = [40, 60, 80];
const predTicks = [30, 50, 70, 90];

// ---- panel 2: low EF prediction by pre HCT EF group ----
const efGroups = ['EF < 50%', 'Normal EF'];
const efMin = [0.0, 0.0];
const efQ1 = [0.053, 0.005];
const efMedian = [0.226, 0.010];
const efQ3 = [0.857, 0.025];
const efMax = [0.974, 0.050];
const efOutliersNormal = [
  0.929, 0.891, 0.762, 0.714, 0.714, 0.591, 0.508, 0.474, 0.442, 0.435, 0.379, 0.379, 0.303, 0.293, 0.284, 0.272,
  0.257, 0.246, 0.235, 0.229, 0.224, 0.219, 0.215, 0.210, 0.210, 0.205, 0.200, 0.196, 0.190, 0.186, 0.182, 0.177,
  0.172, 0.172, 0.168, 0.163, 0.158, 0.154, 0.150, 0.146, 0.141, 0.137, 0.133, 0.130, 0.130, 0.126, 0.122, 0.118,
  0.114, 0.110, 0.106, 0.102, 0.100, 0.097, 0.093, 0.089, 0.085, 0.081, 0.077, 0.073, 0.069, 0.066, 0.062, 0.058,
  0.055, 0.052
];

// ---- panel 3: cardiac amyloid prediction by diagnosis ----
const amyGroups = ['No', 'Yes'];
const amyMin = [0.0, 0.013];
const amyQ1 = [0.012, 0.140];
const amyMedian = [0.049, 0.453];
const amyQ3 = [0.155, 0.867];
const amyMax = [0.375, 0.997];
const amyOutliersNo = [
  1.000, 0.993, 0.984, 0.974, 0.974, 0.965, 0.934, 0.934, 0.915, 0.902, 0.885, 0.878, 0.869, 0.775, 0.769, 0.741,
  0.719, 0.699, 0.671, 0.644, 0.631, 0.621, 0.597, 0.588, 0.579, 0.569, 0.560, 0.550, 0.535, 0.525, 0.515, 0.500,
  0.490, 0.490, 0.480, 0.470, 0.460, 0.452, 0.452, 0.445, 0.437, 0.430, 0.422, 0.422, 0.415, 0.408, 0.400, 0.400,
  0.393, 0.386, 0.380
];
const probTicks = [0, 0.25, 0.5, 0.75, 1];

Chart.defaults.font.family = "'Liberation Sans', Arial, sans-serif";
Chart.defaults.color = '#4d4d4d';
Chart.defaults.animation = false;

function toPoints(list) {
  const out = [];
  for (let i = 0; i < list.length; i += 2) out.push({x: list[i], y: list[i + 1]});
  return out;
}

const scatterPoints = [pairs23to37, pairs37to40, pairs40to45, pairs45to50, pairs50to55,
  pairs55to60, pairs60to65, pairs65to70, pairs70to75, pairs75to83, pairsFringe,
  pairsCore, pairsCore2].flatMap(toPoints);

function axisBase(tickValues, fmt, titleText, titlePad, size) {
  return {
    type: 'linear',
    offset: false,
    afterBuildTicks: (ax) => { ax.ticks = tickValues.map(v => ({value: v})); },
    afterFit: (ax) => { if (ax.isHorizontal()) ax.height = size; else ax.width = size; },
    ticks: {
      callback: fmt, autoSkip: false, maxRotation: 0,
      font: {size: 7}, color: '#4d4d4d', padding: 1
    },
    grid: {display: true, drawOnChartArea: false, drawTicks: true, tickLength: 3,
           color: '#333', lineWidth: 1, offset: false},
    border: {display: true, color: '#222', width: 1},
    title: {display: true, text: titleText, color: '#111', font: {size: 9}, padding: titlePad}
  };
}

const corLabel = {
  id: 'corLabel',
  afterDraw(chart) {
    const {ctx, scales: {x, y}} = chart;
    let px = x.getPixelForValue(45.0);
    const py = y.getPixelForValue(15.5);
    const parts = [['R', true], [' = 0.59, ', false], ['p', true], [' < 2.2e-16', false]];
    ctx.save();
    ctx.fillStyle = '#111';
    ctx.textBaseline = 'middle';
    parts.forEach(([txt, it]) => {
      ctx.font = (it ? 'italic ' : '') + "10px 'Liberation Sans', Arial, sans-serif";
      ctx.fillText(txt, px, py);
      px += ctx.measureText(txt).width;
    });
    ctx.restore();
  }
};

new Chart(document.getElementById('ageChart'), {
  type: 'scatter',
  data: {
    datasets: [
      {
        label: 'patients', data: scatterPoints, order: 1,
        pointRadius: 1.25, pointBorderWidth: 0, pointBackgroundColor: '#000'
      },
      {
        type: 'line', label: 'fit', order: 0,
        data: fitAge.map((a, i) => ({x: a, y: fitPred[i]})),
        borderColor: '#e3141c', borderWidth: 2, pointRadius: 0, fill: false
      }
    ]
  },
  options: {
    responsive: false,
    devicePixelRatio: 1,
    layout: {padding: {top: 10.6, right: 0, bottom: 0, left: 0}},
    plugins: {legend: {display: false}, tooltip: {enabled: false}},
    scales: {
      x: Object.assign(axisBase(ageTicks, v => String(v), 'Patient Age', {top: 0, bottom: 10.6}, 35),
        {min: 19.83, max: 85.5}),
      y: Object.assign(axisBase(predTicks, v => String(v), 'Predicted Age', {top: 7.6, bottom: 0}, 34),
        {min: 11.7, max: 90.3})
    }
  },
  plugins: [corLabel]
});

function boxExtras(mins, medians, maxs) {
  return {
    id: 'boxExtras',
    afterDatasetDraw(chart, args) {
      if (args.meta.type !== 'bar') return;
      const {ctx, scales: {y}} = chart;
      const boxes = chart.data.datasets[args.index].data;
      ctx.save();
      args.meta.data.forEach((bar, i) => {
        const cx = bar.x, half = bar.width / 2;
        ctx.strokeStyle = '#333';
        ctx.lineWidth = 1;
        ctx.beginPath();
        ctx.moveTo(cx, y.getPixelForValue(boxes[i].y[1]));
        ctx.lineTo(cx, y.getPixelForValue(maxs[i]));
        ctx.moveTo(cx, y.getPixelForValue(boxes[i].y[0]));
        ctx.lineTo(cx, y.getPixelForValue(mins[i]));
        ctx.stroke();
        const my = y.getPixelForValue(medians[i]);
        ctx.strokeStyle = '#2b2b48';
        ctx.lineWidth = 2;
        ctx.beginPath();
        ctx.moveTo(cx - half, my);
        ctx.lineTo(cx + half, my);
        ctx.stroke();
      });
      ctx.restore();
    }
  };
}

function boxChart(canvasId, groups, q1, q3, mins, medians, maxs, outlierGroup, outliers,
                  xTitle, yTitle, yWidth, yTitlePad, yMin, yMax, padTop, padRight, xHeight) {
  return new Chart(document.getElementById(canvasId), {
    type: 'bar',
    data: {
      datasets: [
        {
          label: 'box', order: 1,
          data: groups.map((g, i) => ({x: i + 1, y: [q1[i], q3[i]]})),
          backgroundColor: '#9c9ccc', borderColor: '#333', borderWidth: 1,
          borderSkipped: false, categoryPercentage: 1, barPercentage: 0.75
        },
        {
          type: 'scatter', label: 'outliers', order: 0,
          data: outliers.map(v => ({x: outlierGroup, y: v})),
          pointRadius: 2.2, pointBorderWidth: 0,
          pointBackgroundColor: 'rgba(60,60,60,0.38)'
        }
      ]
    },
    options: {
      responsive: false,
      devicePixelRatio: 1,
      layout: {padding: {top: padTop, right: padRight, bottom: 0, left: 0}},
      plugins: {legend: {display: false}, tooltip: {enabled: false}},
      scales: {
        x: Object.assign(axisBase([1, 2], v => groups[v - 1], xTitle, {top: 0, bottom: 10.6}, xHeight),
          {min: 0.4, max: 2.6}),
        y: Object.assign(axisBase(probTicks, v => v.toFixed(2), yTitle, {top: yTitlePad, bottom: 0}, yWidth),
          {min: yMin, max: yMax})
      }
    },
    plugins: [boxExtras(mins, medians, maxs)]
  });
}

boxChart('efChart', efGroups, efQ1, efQ3, efMin, efMedian, efMax, 2, efOutliersNormal,
  'Pre HCT EF', 'Prediction of Low EF Pre HCT', 39.5, 10.6, -0.0487, 1.0228, 9.7, 1.4, 35);

boxChart('amyChart', amyGroups, amyQ1, amyQ3, amyMin, amyMedian, amyMax, 1, amyOutliersNo,
  'Amyloid Diagnosis', 'Prediction of Cardiac Amyloid', 36, 5.6, -0.05, 1.05, 10.55, 9.5, 34);
</script>
</body>
</html>
